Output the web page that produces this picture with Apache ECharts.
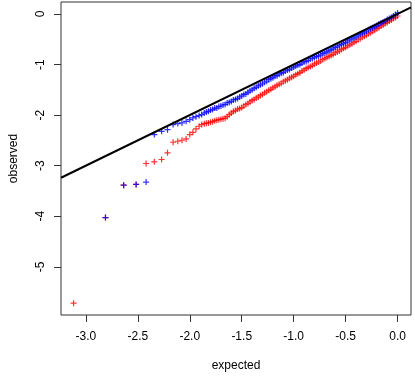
<!DOCTYPE html>
<html>
<head>
<meta charset="utf-8">
<script src="https://cdn.jsdelivr.net/npm/echarts@6/dist/echarts.min.js"></script>
<style>
html,body{margin:0;padding:0;background:#fff;}
#c{width:415px;height:377px;}
</style>
</head>
<body>
<div id="c"></div>
<script>
// Tick labels
const xTicks = [-3.0, -2.5, -2.0, -1.5, -1.0, -0.5, 0.0];
const yTicks = [-5, -4, -3, -2, -1, 0];

// Sparse low tail
const redTailExpected = [-3.118, -2.811, -2.636, -2.516, -2.42, -2.341, -2.271, -2.214, -2.16, -2.115, -2.075, -2.035, -2.00, -1.97, -1.94, -1.91, -1.885, -1.86, -1.84, -1.82];
const redTailObserved = [-5.72, -4.027, -3.385, -3.371, -2.957, -2.923, -2.878, -2.746, -2.537, -2.517, -2.497, -2.47, -2.385, -2.34, -2.273, -2.22, -2.188, -2.17, -2.16, -2.155];
const blueTailExpected = [-2.811, -2.636, -2.516, -2.42, -2.341, -2.271, -2.214, -2.16, -2.115, -2.075, -2.035, -2.00, -1.97, -1.94, -1.91, -1.885, -1.86, -1.84, -1.82];
const blueTailObserved = [-4.027, -3.385, -3.371, -3.325, -2.385, -2.32, -2.287, -2.188, -2.168, -2.155, -2.122, -2.09, -2.056, -2.03, -2.01, -1.99, -1.96, -1.94, -1.925];

// Dense band
const denseExpected = [
 -1.80,-1.78,-1.76,-1.74,-1.72,-1.70,-1.68,-1.66,-1.64,-1.62,
 -1.60,-1.58,-1.56,-1.54,-1.52,-1.50,-1.48,-1.46,-1.44,-1.42,
 -1.40,-1.38,-1.36,-1.34,-1.32,-1.30,-1.28,-1.26,-1.24,-1.22,
 -1.20,-1.18,-1.16,-1.14,-1.12,-1.10,-1.08,-1.06,-1.04,-1.02,
 -1.00,-0.98,-0.96,-0.94,-0.92,-0.90,-0.88,-0.86,-0.84,-0.82,
 -0.80,-0.78,-0.76,-0.74,-0.72,-0.70,-0.68,-0.66,-0.64,-0.62,
 -0.60,-0.58,-0.56,-0.54,-0.52,-0.50,-0.48,-0.46,-0.44,-0.42,
 -0.40,-0.38,-0.36,-0.34,-0.32,-0.30,-0.28,-0.26,-0.24,-0.22,
 -0.20,-0.18,-0.16,-0.14,-0.12,-0.10,-0.08,-0.06,-0.04,-0.02,
 0.00];
const blueDenseObserved = [
 -1.90,-1.89,-1.86,-1.86,-1.83,-1.82,-1.80,-1.79,-1.76,-1.75,
 -1.73,-1.70,-1.69,-1.67,-1.64,-1.62,-1.59,-1.58,-1.55,-1.52,
 -1.50,-1.47,-1.45,-1.42,-1.40,-1.38,-1.35,-1.33,-1.30,-1.28,
 -1.26,-1.23,-1.22,-1.19,-1.17,-1.16,-1.13,-1.11,-1.10,-1.07,
 -1.05,-1.03,-1.01,-1.00,-0.97,-0.95,-0.94,-0.92,-0.89,-0.88,
 -0.86,-0.84,-0.83,-0.81,-0.78,-0.77,-0.75,-0.73,-0.71,-0.69,
 -0.66,-0.65,-0.62,-0.60,-0.58,-0.56,-0.53,-0.51,-0.49,-0.47,
 -0.45,-0.42,-0.40,-0.38,-0.36,-0.34,-0.31,-0.29,-0.27,-0.25,
 -0.23,-0.20,-0.18,-0.16,-0.14,-0.11,-0.09,-0.07,-0.04,-0.01,
 0.02];
const redDenseObserved = [
 -2.14,-2.13,-2.11,-2.10,-2.09,-2.08,-2.07,-2.06,-2.03,-1.99,
 -1.96,-1.93,-1.91,-1.88,-1.87,-1.85,-1.82,-1.79,-1.77,-1.74,
 -1.71,-1.69,-1.66,-1.64,-1.61,-1.59,-1.56,-1.54,-1.51,-1.49,
 -1.46,-1.44,-1.41,-1.39,-1.37,-1.34,-1.32,-1.30,-1.27,-1.25,
 -1.23,-1.20,-1.18,-1.16,-1.13,-1.11,-1.08,-1.06,-1.04,-1.02,
 -0.99,-0.97,-0.95,-0.93,-0.90,-0.88,-0.86,-0.84,-0.82,-0.80,
 -0.77,-0.75,-0.73,-0.70,-0.68,-0.66,-0.63,-0.61,-0.59,-0.56,
 -0.54,-0.51,-0.49,-0.46,-0.44,-0.42,-0.39,-0.37,-0.34,-0.32,
 -0.29,-0.27,-0.24,-0.22,-0.19,-0.17,-0.14,-0.12,-0.09,-0.07,
 -0.04];

// Reference line y = x, spanning the x-axis range
const refLineExpected = [-3.239, 0.129];
const refLineObserved = [-3.239, 0.129];

function zip(xs, ys) { return xs.map((x, i) => [x, ys[i]]); }
const redData = zip(redTailExpected.concat(denseExpected), redTailObserved.concat(redDenseObserved));
const blueData = zip(blueTailExpected.concat(denseExpected), blueTailObserved.concat(blueDenseObserved));
const lineData = zip(refLineExpected, refLineObserved);

const FONT = 'Liberation Sans, Arial, sans-serif';
const PLUS = 'path://M2,0H3V2H5V3H3V5H2V3H0V2H2Z';

const chart = echarts.init(document.getElementById('c'), null, {renderer: 'canvas'});
chart.setOption({
  animation: false,
  backgroundColor: '#fff',
  grid: {left: 57, top: 2, width: 354, height: 314, show: true, borderColor: '#333', borderWidth: 1, backgroundColor: 'transparent'},
  xAxis: {
    type: 'value', min: -3.239, max: 0.129,
    name: 'expected', nameLocation: 'middle', nameGap: 45,
    nameTextStyle: {fontSize: 12, color: '#000', fontFamily: FONT},
    axisLine: {show: false, onZero: false},
    axisTick: {show: true, length: 7, customValues: xTicks, lineStyle: {color: '#333', width: 1}},
    axisLabel: {customValues: xTicks, formatter: v => Number(v).toFixed(1), margin: 16, fontSize: 12, color: '#000', fontFamily: FONT},
    splitLine: {show: false}
  },
  yAxis: {
    type: 'value', min: -5.953, max: 0.237,
    name: 'observed', nameLocation: 'middle', nameGap: 41, nameRotate: 90,
    nameTextStyle: {fontSize: 12, color: '#000', fontFamily: FONT},
    axisLine: {show: false, onZero: false},
    axisTick: {show: true, length: 7, customValues: yTicks, lineStyle: {color: '#333', width: 1}},
    axisLabel: {customValues: yTicks, formatter: v => String(v), rotate: 90, margin: 14, fontSize: 12, color: '#000', fontFamily: FONT},
    splitLine: {show: false}
  },
  series: [
    {type: 'scatter', name: 'red', data: redData, symbol: PLUS, symbolSize: 6, itemStyle: {color: '#ff0000'}, z: 2},
    {type: 'scatter', name: 'blue', data: blueData, symbol: PLUS, symbolSize: 6, itemStyle: {color: '#0000ff'}, z: 3},
    {type: 'line', name: 'y = x', data: lineData, symbol: 'none', lineStyle: {color: '#000', width: 2}, z: 4, silent: true}
  ]
});
</script>
</body>
</html>
